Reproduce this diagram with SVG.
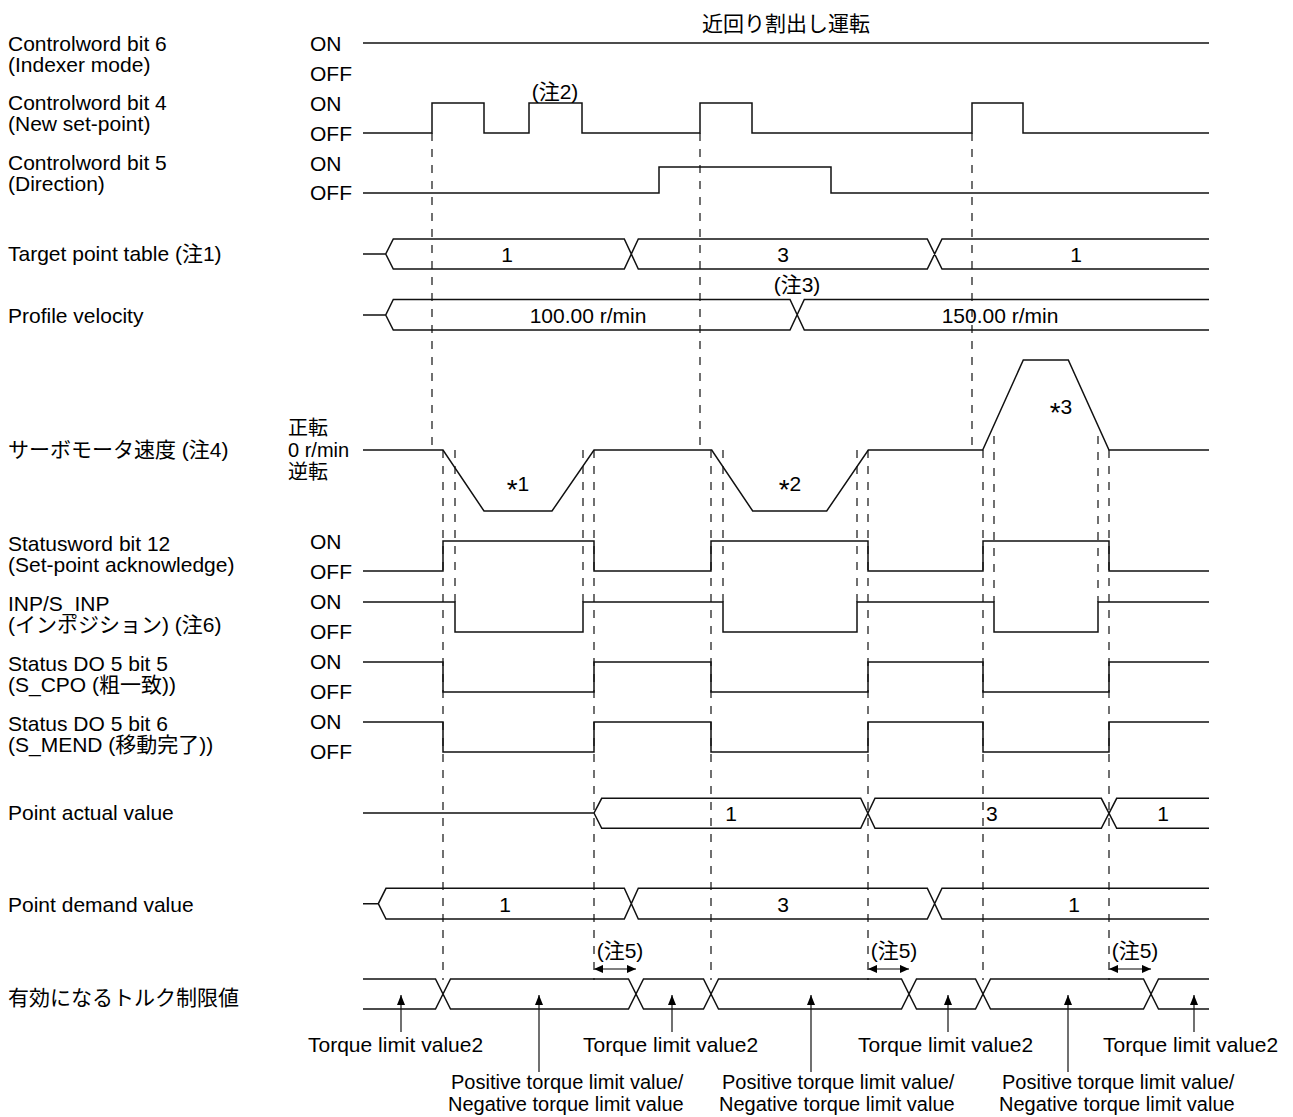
<svg xmlns="http://www.w3.org/2000/svg" width="1293" height="1117" viewBox="0 0 1293 1117">
<style>
text{font-family:"Liberation Sans","Noto Sans CJK JP",sans-serif;font-size:21px;fill:#000}
.c{text-anchor:middle}
.s20{font-size:20px}
.ast{font-size:28px}
.sig{fill:none;stroke:#111;stroke-width:1.5}
.dash{fill:none;stroke:#111;stroke-width:1.2;stroke-dasharray:8 8}
.dim{fill:none;stroke:#555;stroke-width:1.5;marker-start:url(#ah);marker-end:url(#ah)}
.up{fill:none;stroke:#111;stroke-width:1.2;marker-end:url(#ahu)}
</style>
<defs>
<marker id="ah" viewBox="0 0 10 10" refX="10" refY="5" markerWidth="9" markerHeight="9" markerUnits="userSpaceOnUse" orient="auto-start-reverse"><path d="M0,0.5 L10,5 L0,9.5 z" fill="#000"/></marker>
<marker id="ahu" viewBox="0 0 10 10" refX="10" refY="5" markerWidth="10" markerHeight="10" markerUnits="userSpaceOnUse" orient="auto"><path d="M0,1 L10,5 L0,9 z" fill="#000"/></marker>
</defs>

<text id="title" class="c" x="786" y="31">近回り割出し運転</text>

<g id="labels">
<text x="8" y="51">Controlword bit 6</text><text x="8" y="72">(Indexer mode)</text>
<text x="8" y="110">Controlword bit 4</text><text x="8" y="131">(New set-point)</text>
<text x="8" y="170">Controlword bit 5</text><text x="8" y="191">(Direction)</text>
<text x="8" y="261">Target point table (注1)</text>
<text x="8" y="323">Profile velocity</text>
<text x="8" y="457">サーボモータ速度 (注4)</text>
<text x="8" y="551">Statusword bit 12</text><text x="8" y="572">(Set-point acknowledge)</text>
<text x="8" y="611">INP/S_INP</text><text x="8" y="632">(インポジション) (注6)</text>
<text x="8" y="671">Status DO 5 bit 5</text><text x="8" y="692">(S_CPO (粗一致))</text>
<text x="8" y="731">Status DO 5 bit 6</text><text x="8" y="752">(S_MEND (移動完了))</text>
<text x="8" y="820">Point actual value</text>
<text x="8" y="912">Point demand value</text>
<text x="8" y="1005">有効になるトルク制限値</text>
</g>

<g id="levels">
<text x="310" y="51">ON</text><text x="310" y="81">OFF</text>
<text x="310" y="111">ON</text><text x="310" y="141">OFF</text>
<text x="310" y="171">ON</text><text x="310" y="200">OFF</text>
<text class="s20" x="288" y="435">正転</text><text class="s20" x="288" y="457">0 r/min</text><text class="s20" x="288" y="479">逆転</text>
<text x="310" y="549">ON</text><text x="310" y="579">OFF</text>
<text x="310" y="609">ON</text><text x="310" y="639">OFF</text>
<text x="310" y="669">ON</text><text x="310" y="699">OFF</text>
<text x="310" y="729">ON</text><text x="310" y="759">OFF</text>
</g>

<g id="connectors">
<path class="dash" d="M432,133V450M700,133V450M972,133V450M443,450V980M455,450V602M583,450V602M594,450V980M711,450V980M723,450V602M857,450V602M868,450V980M983,450V980M994,436V602M1098,436V602M1109,450V980"/>
</g>

<g id="cw6"><path class="sig" d="M363,43H1209"/></g>
<g id="cw4"><path class="sig" d="M363,133H432V103H484V133H529V103H582V133H700V103H752V133H972V103H1023V133H1209"/>
<text class="c" x="555" y="99">(注2)</text></g>
<g id="cw5"><path class="sig" d="M363,193H659V167H831V193H1209"/></g>

<g id="target">
<path class="sig" d="M363,254H385.7L393.3,239H624.3L638.3,269H927.3L942,239H1209M385.7,254L393.3,269H624.3L638.3,239H927.3L942,269H1209"/>
<text class="c" x="507" y="262">1</text><text class="c" x="783" y="262">3</text><text class="c" x="1076" y="262">1</text>
</g>

<g id="profile">
<path class="sig" d="M363,315H385.7L393.3,299.5H790L804.3,330H1209M385.7,315L393.3,330H790L804.3,299.5H1209"/>
<text class="c" x="588" y="323">100.00 r/min</text><text class="c" x="1000" y="323">150.00 r/min</text>
<text class="c" x="797" y="292">(注3)</text>
</g>

<g id="speed">
<path class="sig" d="M363,450H443L484,511H552L594,450H711.7L752.7,511H826.7L868.3,450H982.7L1023.3,360H1068.3L1109,450H1209"/>
<text class="c" x="518" y="491"><tspan class="ast" dy="8">*</tspan><tspan dy="-8">1</tspan></text>
<text class="c" x="790" y="491"><tspan class="ast" dy="8">*</tspan><tspan dy="-8">2</tspan></text>
<text class="c" x="1061" y="414"><tspan class="ast" dy="8">*</tspan><tspan dy="-8">3</tspan></text>
</g>

<g id="sw12"><path class="sig" d="M363,571H443V541H594V571H711V541H868V571H983V541H1109V571H1209"/></g>
<g id="inp"><path class="sig" d="M363,602H455V632H583V602H723V632H857V602H994V632H1098V602H1209"/></g>
<g id="cpo"><path class="sig" d="M363,662H443V692H594V662H711V692H868V662H983V692H1109V662H1209"/></g>
<g id="mend"><path class="sig" d="M363,722H443V752H594V722H711V752H868V722H983V752H1109V722H1209"/></g>

<g id="actual">
<path class="sig" d="M363,813H594L601.7,798.3H860.7L875,828.3H1101.3L1116.7,798.3H1209M594,813L601.7,828.3H860.7L875,798.3H1101.3L1116.7,828.3H1209"/>
<text class="c" x="731" y="821">1</text><text x="986" y="821">3</text><text class="c" x="1163" y="821">1</text>
</g>

<g id="demand">
<path class="sig" d="M363,903.7H378.3L386,888.3H624.3L638.3,919H927.3L942,888.3H1209M378.3,903.7L386,919H624.3L638.3,888.3H927.3L942,919H1209"/>
<text class="c" x="505" y="912">1</text><text class="c" x="783" y="912">3</text><text class="c" x="1074" y="912">1</text>
</g>

<g id="note5">
<line class="dim" x1="594" y1="969" x2="636" y2="969"/>
<line class="dim" x1="868" y1="969" x2="909" y2="969"/>
<line class="dim" x1="1109" y1="969" x2="1151" y2="969"/>
<text class="c" x="620" y="958">(注5)</text><text class="c" x="894" y="958">(注5)</text><text class="c" x="1135" y="958">(注5)</text>
</g>

<g id="torque">
<path class="sig" d="M363,979H435.5L450.5,1009H628.5L643.5,979H703.5L718.5,1009H901.5L916.5,979H975.5L990.5,1009H1143.5L1158.5,979H1209M363,1009H435.5L450.5,979H628.5L643.5,1009H703.5L718.5,979H901.5L916.5,1009H975.5L990.5,979H1143.5L1158.5,1009H1209"/>
<line class="up" x1="401" y1="1032" x2="401" y2="995"/>
<line class="up" x1="672" y1="1032" x2="672" y2="995"/>
<line class="up" x1="948" y1="1032" x2="948" y2="995"/>
<line class="up" x1="1194" y1="1032" x2="1194" y2="995"/>
<line class="up" x1="539" y1="1072" x2="539" y2="995"/>
<line class="up" x1="811" y1="1072" x2="811" y2="995"/>
<line class="up" x1="1068" y1="1072" x2="1068" y2="995"/>
<text x="308" y="1052">Torque limit value2</text>
<text x="583" y="1052">Torque limit value2</text>
<text x="858" y="1052">Torque limit value2</text>
<text x="1103" y="1052">Torque limit value2</text>
<text class="s20" x="451" y="1089">Positive torque limit value/</text><text class="s20" x="448" y="1111">Negative torque limit value</text>
<text class="s20" x="722" y="1089">Positive torque limit value/</text><text class="s20" x="719" y="1111">Negative torque limit value</text>
<text class="s20" x="1002" y="1089">Positive torque limit value/</text><text class="s20" x="999" y="1111">Negative torque limit value</text>
</g>
</svg>
